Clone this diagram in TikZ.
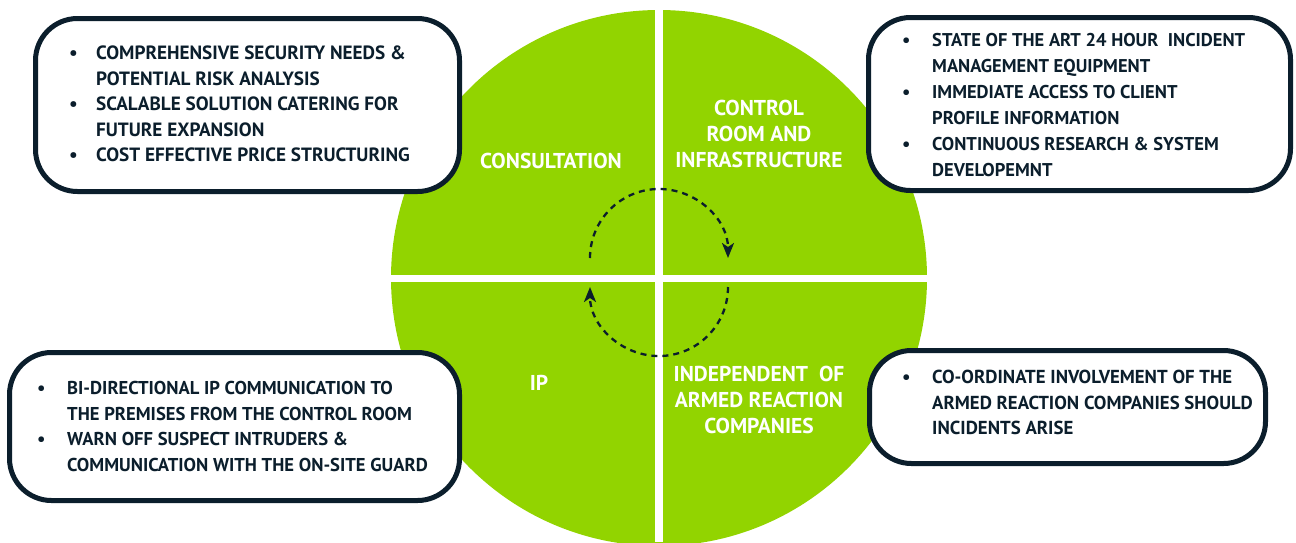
\documentclass[tikz,border=0pt]{standalone}
\usepackage{fontspec}
\setmainfont{PT Sans}
\usetikzlibrary{arrows.meta}
\definecolor{lime}{RGB}{146,212,0}
\definecolor{navy}{RGB}{11,30,44}
\newcommand{\bl}{\makebox[27pt][l]{\textbullet}}
\begin{document}
\begin{tikzpicture}[x=1pt,y=-1pt,
  infobox/.style={draw=navy, line width=5pt, fill=white, rounded corners=42pt, inner sep=0pt},
  boxtext/.style={text=navy, font=\bfseries\fontsize{19.2}{25.6}\selectfont, inner sep=0pt, anchor=base west},
  label/.style={text=white, font=\bfseries\fontsize{21.5}{26}\selectfont, align=center, inner sep=0pt},
  cyclearc/.style={draw=navy, line width=2.3pt, dash pattern=on 6pt off 5pt, -{Stealth[length=15pt,width=12pt,inset=4pt]}}]
\useasboundingbox (0,0) rectangle (1296,542);
\clip (0,0) rectangle (1296,542);
% wheel
\fill[lime] (659,278) circle[radius=268pt];
\fill[white] (655,0) rectangle (663,542);
\fill[white] (0,275) rectangle (1296,282);
% quadrant labels
\node[label] (consult) at (551,161) {CONSULTATION};
\node[label] (control) at (759,134) {CONTROL\\ROOM AND\\INFRASTRUCTURE};
\node[label] (ip) at (539,383) {IP};
\node[label] (indep) at (759,400) {INDEPENDENT\ \ OF\\ARMED REACTION\\COMPANIES};
% cycle arrows
\coordinate (ua) at (590,258);
\coordinate (la) at (728,287);
\draw[cyclearc] (ua) arc[start angle=180, end angle=0, radius=69pt];
\draw[cyclearc] (la) arc[start angle=0, end angle=-180, radius=69pt];
% info boxes
\node[infobox, minimum width=424pt, minimum height=173pt] (tl) at (247.5,105) {};
\node[infobox, minimum width=422pt, minimum height=173pt] (tr) at (1079.5,104) {};
\node[infobox, minimum width=450pt, minimum height=148pt] (bl) at (234.5,426.5) {};
\node[infobox, minimum width=396pt, minimum height=113pt] (br) at (1067.5,407) {};
\node[boxtext] (tltext) at (69,59.5) {\begin{tabular}[t]{@{}l@{}l@{}}
\bl & COMPREHENSIVE SECURITY NEEDS \&\\
 & POTENTIAL RISK ANALYSIS\\
\bl & SCALABLE SOLUTION CATERING FOR\\
 & FUTURE EXPANSION\\
\bl & COST EFFECTIVE PRICE STRUCTURING
\end{tabular}};
\node[boxtext, font=\bfseries\fontsize{18.5}{26}\selectfont] (trtext) at (902,46.5) {\begin{tabular}[t]{@{}l@{}l@{}}
\makebox[30pt][l]{\textbullet} & STATE OF THE ART 24 HOUR\ \ INCIDENT\\
 & MANAGEMENT EQUIPMENT\\
\makebox[30pt][l]{\textbullet} & IMMEDIATE ACCESS TO CLIENT\\
 & PROFILE INFORMATION\\
\makebox[30pt][l]{\textbullet} & CONTINUOUS RESEARCH \& SYSTEM\\
 & DEVELOPEMNT
\end{tabular}};
\node[boxtext, font=\bfseries\fontsize{18.6}{25.7}\selectfont] (bltext) at (37,394.5) {\begin{tabular}[t]{@{}l@{}l@{}}
\makebox[30pt][l]{\textbullet} & BI-DIRECTIONAL IP COMMUNICATION TO\\
 & THE PREMISES FROM THE CONTROL ROOM\\
\makebox[30pt][l]{\textbullet} & WARN OFF SUSPECT INTRUDERS \&\\
 & COMMUNICATION WITH THE ON-SITE GUARD
\end{tabular}};
\node[boxtext, font=\bfseries\fontsize{18.8}{25.5}\selectfont] (brtext) at (902,383.5) {\begin{tabular}[t]{@{}l@{}l@{}}
\makebox[30pt][l]{\textbullet} & CO-ORDINATE INVOLVEMENT OF THE\\
 & ARMED REACTION COMPANIES SHOULD\\
 & INCIDENTS ARISE
\end{tabular}};
\end{tikzpicture}
\end{document}
